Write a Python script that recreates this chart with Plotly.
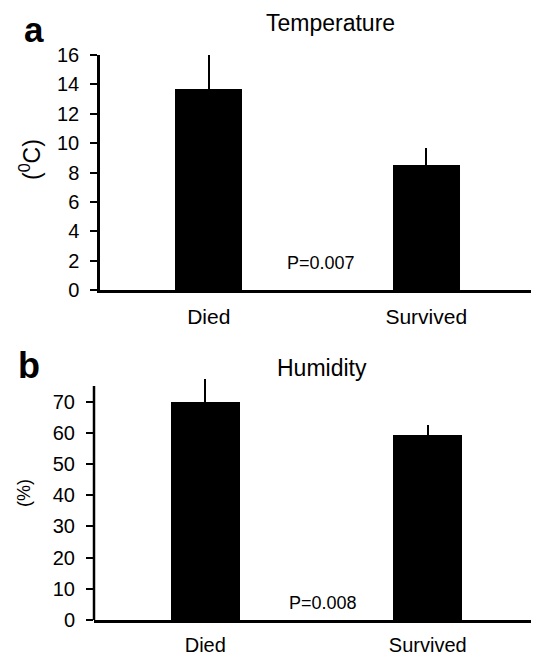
import plotly.graph_objects as go

categories = ["Died", "Survived"]
temp_mean = [13.66, 8.5]
temp_err = [2.34, 1.18]
hum_mean = [69.9, 59.2]
hum_err = [7.3, 3.2]
temp_ticks = [0, 2, 4, 6, 8, 10, 12, 14, 16]
hum_ticks = [0, 10, 20, 30, 40, 50, 60, 70]
hum_axis_top = 75
hum_view_top = 77.6

# page body has an 8px default margin; figure is sized to fit the window
OFF = 8
W, H = 539 - OFF, 655 - OFF
FONT = "Liberation Sans, Arial, sans-serif"


def px(x):
    return (x - OFF) / W


def py(y):
    return 1 - (y - OFF) / H


fig = go.Figure()
fig.add_trace(go.Bar(x=categories, y=temp_mean, width=0.31, marker=dict(color="black", line=dict(width=0)),
                     error_y=dict(type="data", array=temp_err, arrayminus=[0, 0], symmetric=False,
                                  color="black", thickness=2.2, width=0),
                     xaxis="x", yaxis="y", showlegend=False))
fig.add_trace(go.Bar(x=categories, y=hum_mean, width=0.31, marker=dict(color="black", line=dict(width=0)),
                     error_y=dict(type="data", array=hum_err, arrayminus=[0, 0], symmetric=False,
                                  color="black", thickness=2.2, width=0),
                     xaxis="x2", yaxis="y2", showlegend=False))

axcommon = dict(showgrid=False, zeroline=False, linecolor="black", linewidth=2.5, automargin=False)
ycommon = dict(ticks="outside", ticklen=7, tickwidth=2, tickcolor="black", tickfont=dict(size=20),
               ticklabelstandoff=7)

# humidity panel: 0 at y=620 px, 75 at y=386 px
b_scale = (620 - 386) / hum_axis_top
b_top_px = 620 - hum_view_top * b_scale

fig.update_layout(
    template="none",
    width=W, height=H, margin=dict(l=0, r=0, t=0, b=0),
    paper_bgcolor="white", plot_bgcolor="white",
    font=dict(family=FONT, color="black", size=20),
    bargap=0,
    xaxis=dict(domain=[px(100), px(535)], anchor="y", range=[-0.5, 1.5], ticks="", showline=True,
               tickfont=dict(size=21), ticklabelstandoff=6, **axcommon),
    yaxis=dict(domain=[py(290), py(55)], anchor="x", range=[0, 16], tickvals=temp_ticks, showline=True,
               **ycommon, **axcommon),
    xaxis2=dict(domain=[px(94), 1.0], anchor="y2", range=[-0.5, 1.5], ticks="", showline=True,
                tickfont=dict(size=20), ticklabelstandoff=5, **axcommon),
    yaxis2=dict(domain=[py(620), py(b_top_px)], anchor="x2", range=[0, hum_view_top], tickvals=hum_ticks,
                showline=False, **ycommon, **axcommon),
)

# humidity y axis line stops at 75 while the error bar rises above it
fig.add_shape(type="line", xref="x2 domain", yref="y2", x0=0, x1=0, y0=0, y1=hum_axis_top,
              line=dict(color="black", width=2.5), layer="above")

ann = [
    dict(text="<b>a</b>", x=34, y=30, font=dict(size=35)),
    dict(text="<b>b</b>", x=29, y=365, font=dict(size=36)),
    dict(text="Temperature", x=330, y=23, font=dict(size=23)),
    dict(text="Humidity", x=321.5, y=368, font=dict(size=23)),
    dict(text="P=0.007", x=321, y=263, font=dict(size=18)),
    dict(text="P=0.008", x=323, y=603, font=dict(size=18)),
    dict(text="(<sup>0</sup>C)", x=30, y=160, textangle=-90, font=dict(size=23)),
    dict(text="(%)", x=24, y=493, textangle=-90, font=dict(size=18)),
]
for a in ann:
    a.update(x=px(a["x"]), y=py(a["y"]), xref="paper", yref="paper", showarrow=False,
             xanchor="center", yanchor="middle")
fig.update_layout(annotations=ann)

fig.write_html("out.html")
